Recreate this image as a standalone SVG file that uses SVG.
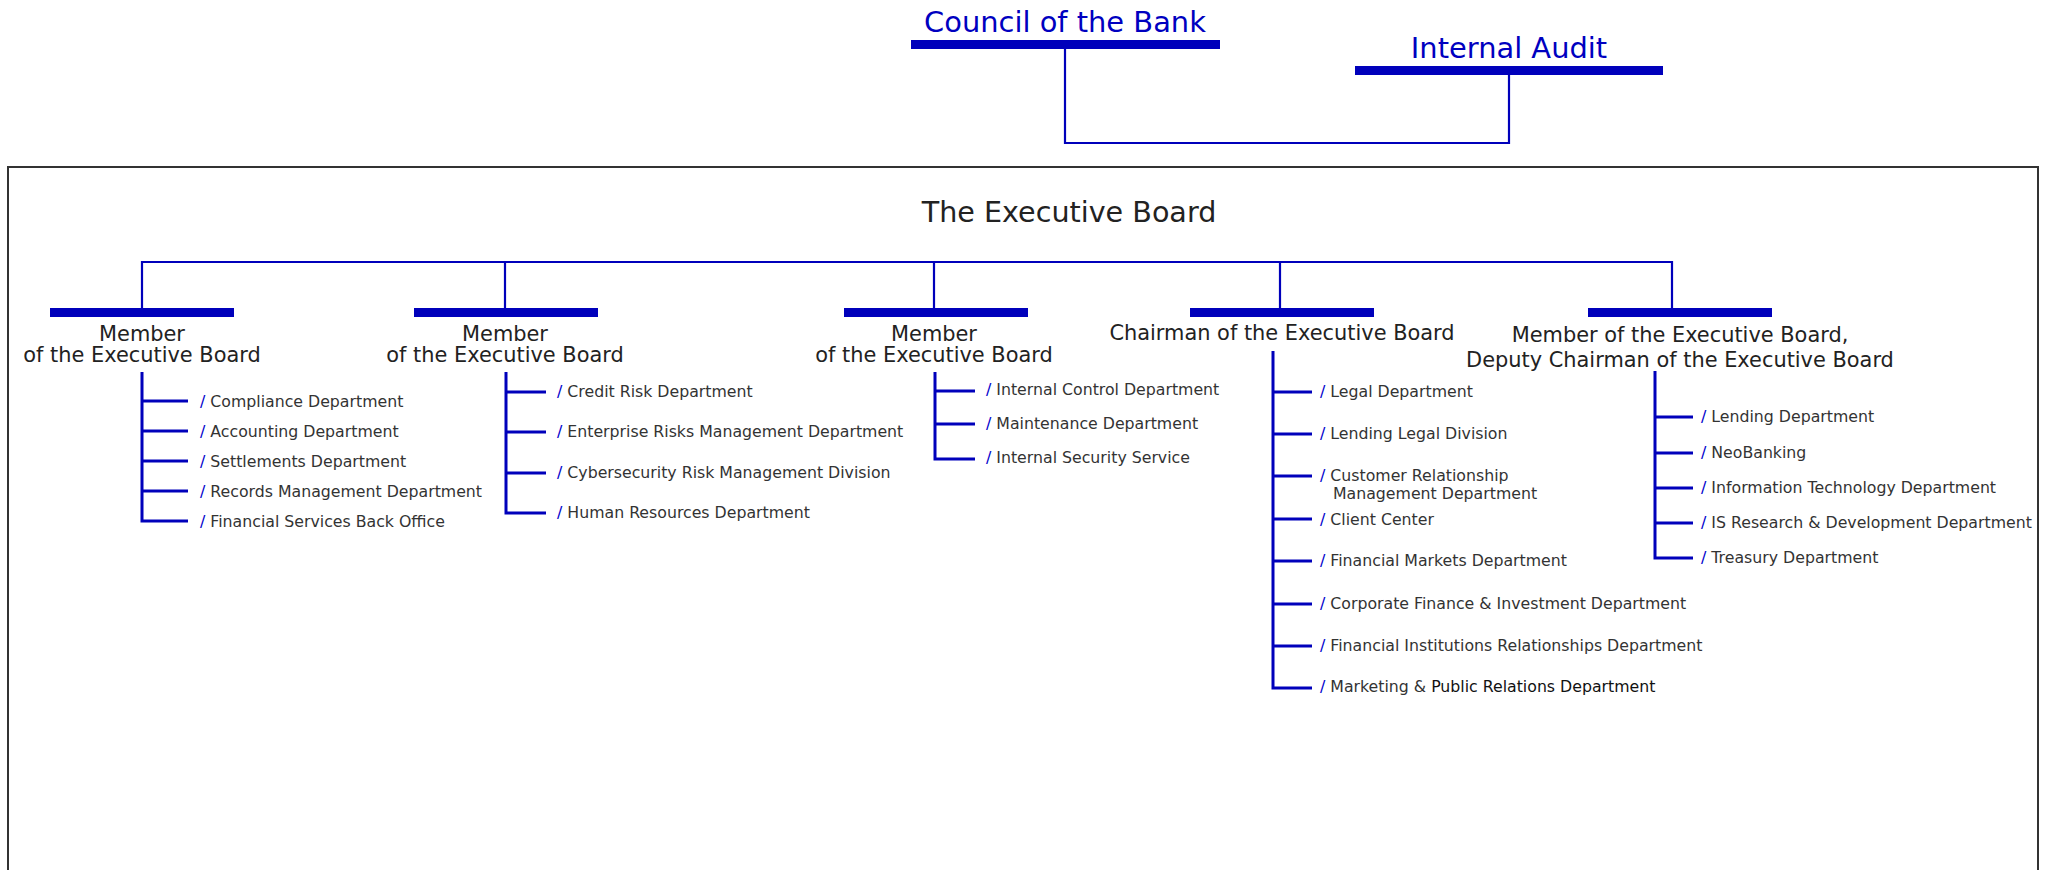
<svg xmlns="http://www.w3.org/2000/svg" width="2056" height="870" viewBox="0 0 2056 870">
<style>
  .bar { fill: #0000bb; }
  .conn { fill: none; stroke: #0000bb; stroke-width: 2.2; }
  .tree { fill: none; stroke: #0000bb; stroke-width: 3; }
  .top { font-family: "DejaVu Sans", Verdana, sans-serif; font-size: 28.9px; fill: #0000c0; text-anchor: middle; }
  .board { font-family: "DejaVu Sans", Verdana, sans-serif; font-size: 28.6px; fill: #222; text-anchor: middle; }
  .title { font-family: "DejaVu Sans", Verdana, sans-serif; font-size: 20.9px; fill: #222; text-anchor: middle; }
  .item { font-family: "DejaVu Sans", Verdana, sans-serif; font-size: 15.75px; fill: #333; }
  .sl { fill: #0000cc; }
  .frame { fill: none; stroke: #333; stroke-width: 2; }
</style>
<rect width="2056" height="870" fill="#fff"/>
<rect class="frame" x="8" y="167" width="2030" height="730"/>

<g id="connectors">
  <path class="conn" d="M1065 49 V143 H1509 V75"/>
  <path class="conn" d="M142 308 V262 H1672 V308 M505 262 V308 M934 262 V308 M1280 262 V308"/>
</g>

<g id="council">
  <rect class="bar" x="911" y="40" width="309" height="9"/>
  <text class="top" x="1065" y="32">Council of the Bank</text>
</g>

<g id="internal-audit">
  <rect class="bar" x="1355" y="66" width="308" height="9"/>
  <text class="top" x="1509" y="58">Internal Audit</text>
</g>

<g id="executive-board">
  <text class="board" x="1069" y="222">The Executive Board</text>
</g>

<g id="member-1">
  <rect class="bar" x="50" y="308" width="184" height="9"/>
  <text class="title" x="142" y="341">Member</text>
  <text class="title" x="142" y="362">of the Executive Board</text>
  <path class="tree" d="M142 372 V521 H188 M142 401 H188 M142 431 H188 M142 461 H188 M142 491 H188"/>
  <text class="item" x="200" y="407"><tspan class="sl">/</tspan> Compliance Department</text>
  <text class="item" x="200" y="437"><tspan class="sl">/</tspan> Accounting Department</text>
  <text class="item" x="200" y="467"><tspan class="sl">/</tspan> Settlements Department</text>
  <text class="item" x="200" y="497"><tspan class="sl">/</tspan> Records Management Department</text>
  <text class="item" x="200" y="527"><tspan class="sl">/</tspan> Financial Services Back Office</text>
</g>

<g id="member-2">
  <rect class="bar" x="414" y="308" width="184" height="9"/>
  <text class="title" x="505" y="341">Member</text>
  <text class="title" x="505" y="362">of the Executive Board</text>
  <path class="tree" d="M506 372 V513 H546 M506 392 H546 M506 432 H546 M506 473 H546"/>
  <text class="item" x="557" y="397"><tspan class="sl">/</tspan> Credit Risk Department</text>
  <text class="item" x="557" y="437"><tspan class="sl">/</tspan> Enterprise Risks Management Department</text>
  <text class="item" x="557" y="478"><tspan class="sl">/</tspan> Cybersecurity Risk Management Division</text>
  <text class="item" x="557" y="518"><tspan class="sl">/</tspan> Human Resources Department</text>
</g>

<g id="member-3">
  <rect class="bar" x="844" y="308" width="184" height="9"/>
  <text class="title" x="934" y="341">Member</text>
  <text class="title" x="934" y="362">of the Executive Board</text>
  <path class="tree" d="M935 372 V459 H975 M935 391 H975 M935 424 H975"/>
  <text class="item" x="986" y="395"><tspan class="sl">/</tspan> Internal Control Department</text>
  <text class="item" x="986" y="429"><tspan class="sl">/</tspan> Maintenance Department</text>
  <text class="item" x="986" y="463"><tspan class="sl">/</tspan> Internal Security Service</text>
</g>

<g id="chairman">
  <rect class="bar" x="1190" y="308" width="184" height="9"/>
  <text class="title" x="1282" y="340">Chairman of the Executive Board</text>
  <path class="tree" d="M1273 351 V688 H1312 M1273 392 H1312 M1273 434 H1312 M1273 476 H1312 M1273 519 H1312 M1273 561 H1312 M1273 604 H1312 M1273 646 H1312"/>
  <text class="item" x="1320" y="397"><tspan class="sl">/</tspan> Legal Department</text>
  <text class="item" x="1320" y="439"><tspan class="sl">/</tspan> Lending Legal Division</text>
  <text class="item" x="1320" y="481"><tspan class="sl">/</tspan> Customer Relationship</text>
  <text class="item" x="1333" y="499">Management Department</text>
  <text class="item" x="1320" y="525"><tspan class="sl">/</tspan> Client Center</text>
  <text class="item" x="1320" y="566"><tspan class="sl">/</tspan> Financial Markets Department</text>
  <text class="item" x="1320" y="609"><tspan class="sl">/</tspan> Corporate Finance &amp; Investment Department</text>
  <text class="item" x="1320" y="651"><tspan class="sl">/</tspan> Financial Institutions Relationships Department</text>
  <text class="item" x="1320" y="692"><tspan class="sl">/</tspan> Marketing &amp; <tspan fill="#111">Public Relations Department</tspan></text>
</g>

<g id="deputy-chairman">
  <rect class="bar" x="1588" y="308" width="184" height="9"/>
  <text class="title" x="1680" y="342">Member of the Executive Board,</text>
  <text class="title" x="1680" y="367">Deputy Chairman of the Executive Board</text>
  <path class="tree" d="M1655 371 V558 H1693 M1655 417 H1693 M1655 453 H1693 M1655 488 H1693 M1655 523 H1693"/>
  <text class="item" x="1701" y="422"><tspan class="sl">/</tspan> Lending Department</text>
  <text class="item" x="1701" y="458"><tspan class="sl">/</tspan> NeoBanking</text>
  <text class="item" x="1701" y="493"><tspan class="sl">/</tspan> Information Technology Department</text>
  <text class="item" x="1701" y="528"><tspan class="sl">/</tspan> IS Research &amp; Development Department</text>
  <text class="item" x="1701" y="563"><tspan class="sl">/</tspan> Treasury Department</text>
</g>
</svg>
